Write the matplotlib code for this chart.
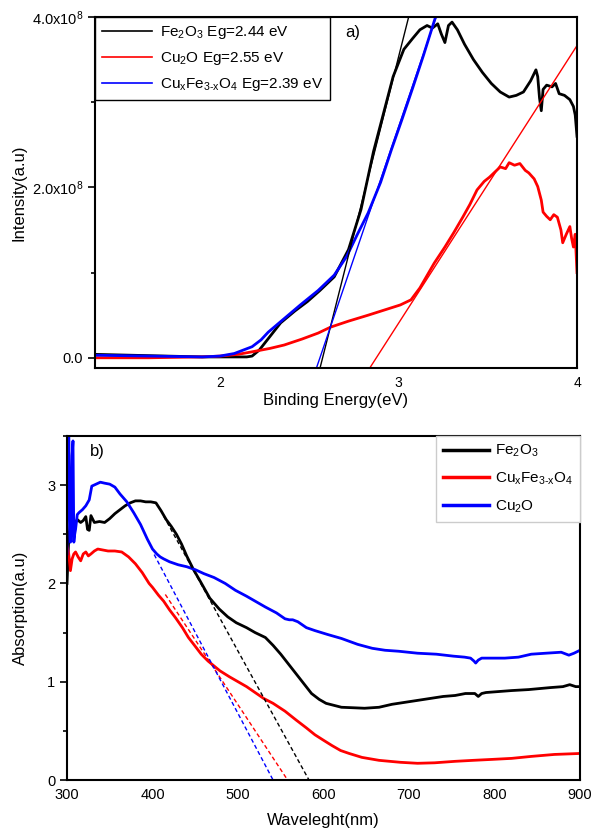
import numpy as np
import matplotlib
matplotlib.use("Agg")
import matplotlib.pyplot as plt
from matplotlib.ticker import FixedLocator, MultipleLocator

plt.rcParams['font.family'] = ['Liberation Sans', 'DejaVu Sans']
plt.rcParams['mathtext.fontset'] = 'custom'
plt.rcParams['mathtext.rm'] = 'Liberation Sans'
plt.rcParams['mathtext.it'] = 'Liberation Sans:italic'

# ---------------- panel a) data (eV, intensity in 1e8) ----------------
fe_x = [1.30, 1.5, 1.7, 1.9, 2.05, 2.15, 2.18, 2.22, 2.28, 2.34, 2.42, 2.49, 2.56, 2.64, 2.72,
        2.79, 2.86, 2.92, 2.97, 3.03, 3.08, 3.12, 3.16, 3.19, 3.22, 3.24, 3.26, 3.28, 3.30, 3.33,
        3.37, 3.42, 3.47, 3.52, 3.57, 3.62, 3.66, 3.70, 3.74, 3.77, 3.78, 3.79, 3.80, 3.81, 3.83,
        3.86, 3.88, 3.90, 3.93, 3.96, 3.98, 3.99, 4.0]
fe_y = [0.04, 0.03, 0.02, 0.01, 0.01, 0.01, 0.02, 0.09, 0.25, 0.41, 0.55, 0.66, 0.79, 0.95, 1.27,
        1.74, 2.42, 2.90, 3.30, 3.62, 3.75, 3.85, 3.90, 3.87, 3.92, 3.80, 3.70, 3.90, 3.94, 3.85,
        3.68, 3.50, 3.35, 3.22, 3.12, 3.06, 3.08, 3.12, 3.25, 3.38, 3.30, 3.05, 2.90, 3.15, 3.20,
        3.18, 3.22, 3.10, 3.08, 3.03, 2.95, 2.85, 2.60]

cu_x = [1.30, 1.6, 1.9, 2.0, 2.1, 2.18, 2.28, 2.36, 2.46, 2.55, 2.62, 2.72, 2.83, 2.92, 3.01,
        3.07, 3.12, 3.20, 3.26, 3.31, 3.36, 3.40, 3.44, 3.48, 3.51, 3.54, 3.57, 3.60, 3.62, 3.65,
        3.68, 3.71, 3.73, 3.76, 3.78, 3.80, 3.81, 3.83, 3.85, 3.87, 3.89, 3.91, 3.92, 3.94, 3.96,
        3.97, 3.98, 3.99, 4.0]
cu_y = [0.0, 0.0, 0.01, 0.02, 0.04, 0.07, 0.11, 0.15, 0.22, 0.29, 0.36, 0.43, 0.50, 0.56, 0.62,
        0.68, 0.82, 1.11, 1.30, 1.47, 1.65, 1.80, 1.97, 2.07, 2.12, 2.18, 2.24, 2.22, 2.29, 2.26,
        2.28, 2.20, 2.17, 2.10, 2.01, 1.85, 1.71, 1.66, 1.62, 1.68, 1.65, 1.50, 1.35, 1.45, 1.54,
        1.40, 1.30, 1.45, 1.00]

cf_x = [1.30, 1.6, 1.9, 2.0, 2.08, 2.13, 2.18, 2.23, 2.27, 2.36, 2.45, 2.55, 2.64, 2.71, 2.77,
        2.83, 2.90, 2.96, 3.02, 3.08, 3.14, 3.20, 3.24]
cf_y = [0.03, 0.02, 0.01, 0.02, 0.05, 0.09, 0.13, 0.21, 0.30, 0.46, 0.62, 0.79, 0.97, 1.19, 1.45,
        1.70, 2.06, 2.44, 2.80, 3.17, 3.55, 3.95, 4.2]

# linear fits: (intercept eV, slope per eV, x-range)
fit_fe = (2.575, 8.3, (2.5, 3.1))
fit_cu = (2.876, 3.26, (2.8, 4.0))
fit_cf = (2.56, 6.15, (2.5, 3.25))

labels_a = [r'Fe$_2$O$_3$ Eg=2.44 eV', r'Cu$_2$O Eg=2.55 eV',
            'Cu$_\\mathregular{x}$Fe$_\\mathregular{3\u2010x}$O$_4$ Eg=2.39 eV']

# ---------------- panel b) data (nm, absorption) ----------------
b_fe_x = [300, 302, 305, 308, 312, 316, 319, 322, 324, 326, 328, 332, 338, 344, 350, 356, 362, 368,
          374, 380, 386, 392, 398, 404, 410, 416, 422, 428, 434, 440, 448, 456, 467, 478, 488, 498,
          510, 520, 532, 541, 550, 559, 568, 577, 586, 595, 603, 612, 621, 635, 648, 665, 680, 695,
          710, 725, 740, 754, 766, 777, 781, 785, 790, 805, 820, 840, 865, 880, 888, 895, 900]
b_fe_y = [2.0, 2.45, 2.72, 2.59, 2.65, 2.62, 2.64, 2.68, 2.55, 2.54, 2.69, 2.62, 2.63, 2.62, 2.66,
          2.71, 2.75, 2.79, 2.82, 2.84, 2.84, 2.83, 2.83, 2.82, 2.74, 2.65, 2.58, 2.50, 2.40, 2.28,
          2.14, 2.02, 1.85, 1.74, 1.66, 1.60, 1.55, 1.50, 1.45, 1.37, 1.28, 1.18, 1.08, 0.98, 0.88,
          0.82, 0.78, 0.76, 0.74, 0.735, 0.73, 0.74, 0.77, 0.79, 0.81, 0.83, 0.85, 0.86, 0.88, 0.88,
          0.85, 0.88, 0.89, 0.90, 0.91, 0.92, 0.94, 0.95, 0.97, 0.95, 0.95]

b_cu_x = [300, 301, 302, 303, 304, 305, 306, 307, 308, 309, 310, 312, 314, 318, 322, 326, 329, 334,
          339, 344, 350, 356, 362, 370, 378, 386, 394, 400, 405, 409, 413, 420, 430, 440, 450, 460,
          472, 485, 497, 510, 520, 532, 545, 555, 560, 564, 570, 580, 590, 605, 621, 640, 657, 672,
          688, 710, 732, 752, 765, 772, 776, 778, 781, 785, 795, 812, 828, 843, 860, 878, 887, 893, 900]
b_cu_y = [2.3, 3.6, 3.6, 2.9, 2.42, 2.5, 3.3, 3.45, 2.42, 2.5, 2.55, 2.70, 2.72, 2.75, 2.79, 2.85,
          2.99, 3.01, 3.03, 3.02, 3.01, 2.98, 2.91, 2.83, 2.72, 2.60, 2.45, 2.35, 2.30, 2.27, 2.25,
          2.22, 2.19, 2.17, 2.14, 2.10, 2.06, 2.00, 1.93, 1.87, 1.82, 1.76, 1.70, 1.64, 1.63, 1.63,
          1.61, 1.55, 1.52, 1.48, 1.44, 1.38, 1.34, 1.32, 1.31, 1.29, 1.28, 1.26, 1.25, 1.24, 1.21,
          1.19, 1.22, 1.24, 1.24, 1.24, 1.25, 1.28, 1.29, 1.30, 1.27, 1.29, 1.32]

b_cf_x = [300, 302, 304, 306, 308, 310, 313, 316, 319, 322, 325, 328, 332, 336, 342, 348, 356, 364,
          372, 380, 388, 396, 400, 407, 413, 420, 427, 435, 442, 450, 457, 465, 472, 479, 490, 500,
          510, 520, 530, 541, 555, 568, 580, 590, 599, 610, 620, 630, 645, 665, 690, 710, 730, 754,
          775, 798, 820, 843, 870, 900]
b_cf_y = [2.38, 2.30, 2.13, 2.25, 2.30, 2.32, 2.27, 2.23, 2.30, 2.32, 2.28, 2.30, 2.33, 2.35, 2.34,
          2.33, 2.33, 2.32, 2.27, 2.20, 2.11, 2.00, 1.96, 1.88, 1.82, 1.73, 1.65, 1.55, 1.45, 1.36,
          1.28, 1.21, 1.16, 1.11, 1.05, 1.00, 0.95, 0.89, 0.83, 0.78, 0.70, 0.61, 0.53, 0.46, 0.41,
          0.35, 0.30, 0.27, 0.23, 0.20, 0.18, 0.17, 0.175, 0.19, 0.20, 0.21, 0.22, 0.24, 0.26, 0.27]

# band-edge extrapolations: (x-intercept nm, slope per nm, start nm)
ext_fe = (583, 0.0158, 413)
ext_cf = (558, 0.0132, 415)
ext_cu = (541, 0.0165, 402)

labels_b = [r'Fe$_2$O$_3$', 'Cu$_\\mathregular{x}$Fe$_\\mathregular{3\u2010x}$O$_4$', r'Cu$_2$O']

# ---------------- figure ----------------
fig = plt.figure(figsize=(5.96, 8.32), dpi=100)
ax1 = fig.add_axes([95/596, 1-368/832, (577-95)/596, (368-17)/832])
ax2 = fig.add_axes([67/596, 1-780/832, (580-67)/596, (780-436)/832])

E = 1e8
ax1.plot(fe_x, np.array(fe_y)*E, color='black', lw=2.0, label=labels_a[0])
ax1.plot(cu_x, np.array(cu_y)*E, color='red', lw=2.0, label=labels_a[1])
ax1.plot(cf_x, np.array(cf_y)*E, color='blue', lw=2.0, label=labels_a[2])
for (e0, s, (xa, xb)), c in [(fit_fe, 'black'), (fit_cu, 'red'), (fit_cf, 'blue')]:
    xx = np.array([xa, xb])
    ax1.plot(xx, s*(xx-e0)*E, color=c, lw=1.0)

ax1.set_xlim(1.3, 4.0)
ax1.set_ylim(-0.12*E, 4.0*E)
ax1.set_xticks([2, 3, 4])
ax1.set_xticklabels(['2', '3', '4'])
ax1.tick_params(axis='x', length=0, labelsize=10, pad=6)
ax1.yaxis.set_major_locator(FixedLocator([0, 2*E, 4*E]))
ax1.yaxis.set_minor_locator(FixedLocator([1*E, 3*E]))
ax1.set_yticklabels(['0.0', r'2.0x10$^8$', r'4.0x10$^8$'])
ax1.tick_params(axis='y', which='major', direction='out', length=5, width=1.2, labelsize=10.5)
ax1.tick_params(axis='y', which='minor', direction='out', length=3, width=1.2)
ax1.set_xlabel('Binding Energy(eV)', fontsize=12, labelpad=2)
ax1.set_ylabel('Intensity(a.u)', fontsize=12, labelpad=4)
for sp in ax1.spines.values():
    sp.set_linewidth(1.5)
leg1 = ax1.legend(loc='upper left', bbox_to_anchor=(0, 1), borderaxespad=0, fancybox=False,
                  edgecolor='black', framealpha=1, fontsize=11, handlelength=3.3,
                  labelspacing=0.6, borderpad=0.45, handletextpad=0.5)
leg1.get_frame().set_linewidth(1.0)
for l in leg1.get_lines():
    l.set_linewidth(1.2)
ax1.text(0.52, 0.955, 'a)', transform=ax1.transAxes, fontsize=12, va='center', ha='left')

ax2.plot(b_fe_x, b_fe_y, color='black', lw=2.0, label=labels_b[0])
ax2.plot(b_cf_x, b_cf_y, color='red', lw=2.0, label=labels_b[1])
ax2.plot(b_cu_x, b_cu_y, color='blue', lw=2.0, label=labels_b[2])
for (x0, s, xs), c in [(ext_fe, 'black'), (ext_cf, 'red'), (ext_cu, 'blue')]:
    xx = np.array([xs, x0])
    ax2.plot(xx, s*(x0-xx), color=c, lw=1.0, ls=(0, (3, 2)))

ax2.set_xlim(300, 900)
ax2.set_ylim(0, 3.5)
ax2.set_xticks([300, 400, 500, 600, 700, 800, 900])
ax2.tick_params(axis='x', length=0, labelsize=10.5, pad=6)
ax2.yaxis.set_major_locator(FixedLocator([0, 1, 2, 3]))
ax2.yaxis.set_minor_locator(MultipleLocator(0.5))
ax2.tick_params(axis='y', which='major', direction='out', length=5, width=1.2, labelsize=10.5)
ax2.tick_params(axis='y', which='minor', direction='out', length=3, width=1.2)
ax2.set_xlabel('Waveleght(nm)', fontsize=12, labelpad=8)
ax2.set_ylabel('Absorption(a.u)', fontsize=12, labelpad=14)
for sp in ax2.spines.values():
    sp.set_linewidth(1.5)
leg2 = ax2.legend(loc='upper right', bbox_to_anchor=(1, 1), borderaxespad=0, fancybox=False,
                  edgecolor='#cccccc', framealpha=1, fontsize=11, handlelength=3.0,
                  labelspacing=0.75, borderpad=0.45, handletextpad=0.4)
for l in leg2.get_lines():
    l.set_linewidth(2.5)
ax2.text(0.045, 0.955, 'b)', transform=ax2.transAxes, fontsize=12, va='center', ha='left')

fig.savefig('out.png', dpi=100, facecolor='white')
